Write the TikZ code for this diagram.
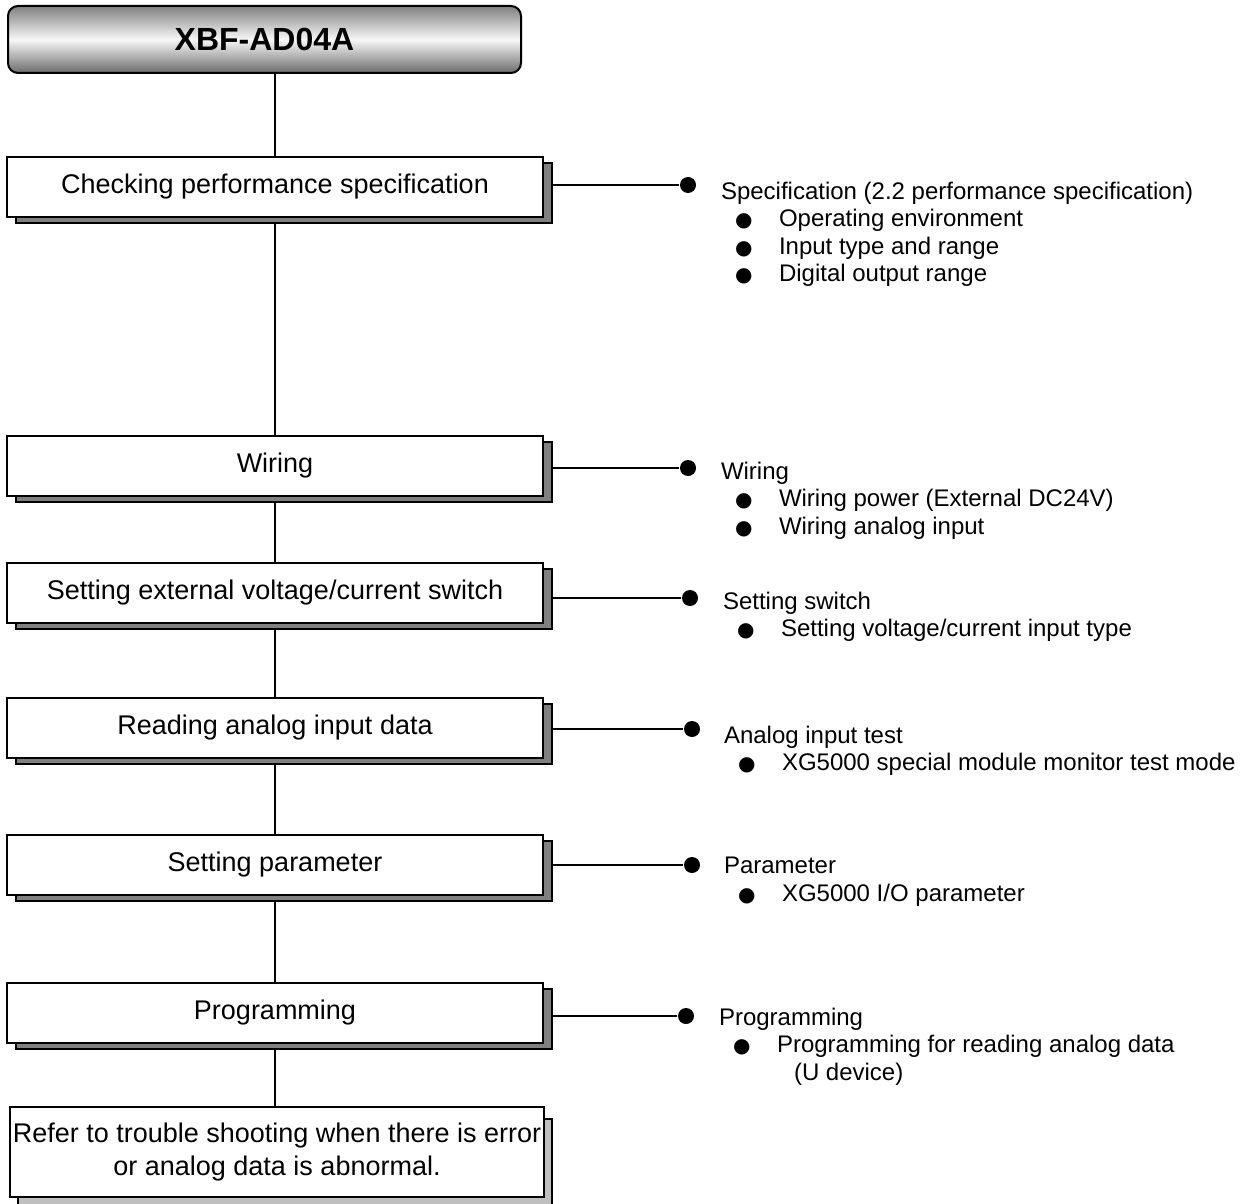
\documentclass[tikz,border=0pt]{standalone}
\usepackage{fontspec}
\setmainfont{Liberation Sans}
\newfontfamily\dotfont{DejaVu Sans}
\usetikzlibrary{shadows,backgrounds}
\newcommand{\blt}{\hspace*{7pt}\makebox[22pt][l]{\dotfont\fontsize{10}{10}\selectfont ●}}

\begin{document}
\begin{tikzpicture}[x=0.5pt,y=-0.5pt,line width=1pt,
    box/.style={rectangle,draw,fill=white,minimum width=268pt,minimum height=30pt,
      inner sep=0pt,align=center,font=\fontsize{13.5}{16.5}\selectfont},
    darkshade/.style={drop shadow={shadow xshift=4.5pt,shadow yshift=-3pt,
      fill=black!50,draw=black,opacity=1}},
    lightshade/.style={drop shadow={shadow xshift=4pt,shadow yshift=-6pt,
      fill=black!25,draw=black,opacity=1}},
    dot/.style={circle,fill=black,inner sep=0pt,minimum size=8pt},
    link/.style={draw=black,line width=1.3pt},
    note/.style={anchor=north west,inner sep=0pt,align=left,
      font=\fontsize{12}{13.75}\selectfont}]

  \useasboundingbox (0,0) rectangle (1251,1203);

  \node[draw,rounded corners=5pt,minimum width=256.5pt,minimum height=33.5pt,
    top color=black!50,bottom color=black!58,middle color=black!3,
    font=\fontsize{16}{19}\selectfont\bfseries] (0) at (264.5,39.5) {XBF-AD04A};

  \begin{scope}[every node/.style={box,darkshade}]
    \node (1) at (275,187)   {Checking performance specification};
    \node (2) at (275,465.5) {Wiring};
    \node (3) at (275,593)   {Setting external voltage/current switch};
    \node (4) at (275,728)   {Reading analog input data};
    \node (5) at (275,864.5) {Setting parameter};
    \node (6) at (275,1013)  {Programming};
  \end{scope}
  \node[box,lightshade,minimum width=267pt,minimum height=45pt] (7) at (277,1152)
    {Refer to trouble shooting when there is error\\or analog data is abnormal.};

  \begin{scope}[every node/.style={dot}]
    \node (d1) at (688,185)  {};
    \node (d2) at (688,468)  {};
    \node (d3) at (690,598)  {};
    \node (d4) at (692,729)  {};
    \node (d5) at (692,865)  {};
    \node (d6) at (686,1016) {};
  \end{scope}

  \begin{scope}[every node/.style={note}]
    \node (n1) at (720,181) {Specification (2.2 performance specification)\\
      \blt Operating environment\\ \blt Input type and range\\ \blt Digital output range};
    \node (n2) at (720,461) {Wiring\\
      \blt Wiring power (External DC24V)\\ \blt Wiring analog input};
    \node (n3) at (722,591) {Setting switch\\ \blt Setting voltage/current input type};
    \node (n4) at (723,725) {Analog input test\\ \blt XG5000 special module monitor test mode};
    \node (n5) at (723,856) {Parameter\\ \blt XG5000 I/O parameter};
    \node (n6) at (718,1007) {Programming\\
      \blt Programming for reading analog data\\ \hspace*{37.5pt}(U device)};
  \end{scope}

  \begin{scope}[on background layer]
    \path[link] (1.north) -- (1.north |- 0.south);
    \path[link] (6.south) -- (6.south |- 7.north);
    \path (1) edge[link] (2) (2) edge[link] (3) (3) edge[link] (4)
          (4) edge[link] (5) (5) edge[link] (6);
    \foreach \i in {1,...,6}
      \path[link] (d\i -| \i.east) -- (d\i);
  \end{scope}

\end{tikzpicture}
\end{document}
